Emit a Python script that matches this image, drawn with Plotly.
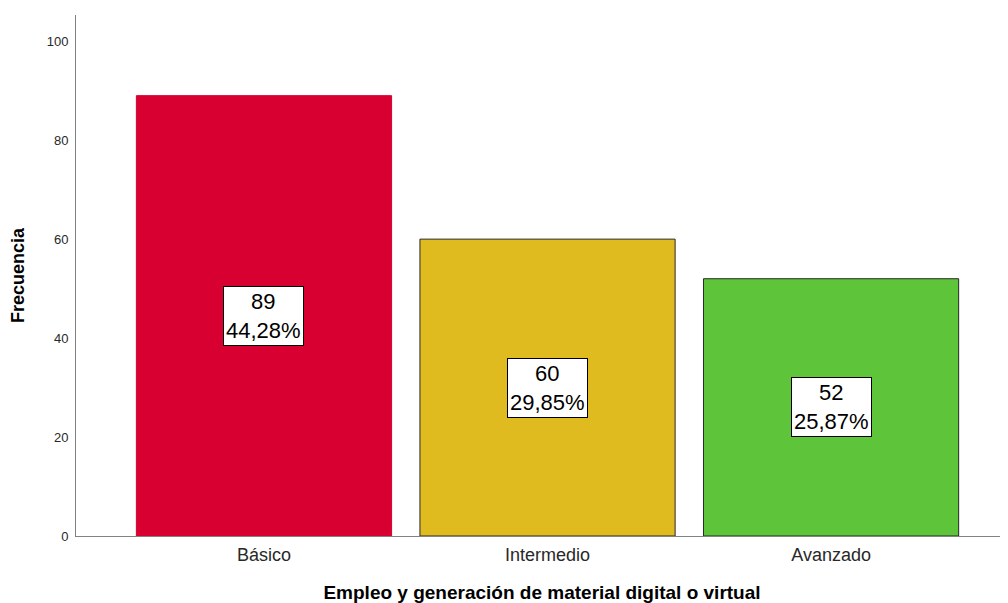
import plotly.graph_objects as go

categories = ["Básico", "Intermedio", "Avanzado"]
counts = [89, 60, 52]
percents = ["44,28%", "29,85%", "25,87%"]
bar_colors = ["rgb(215,0,48)", "rgb(224,187,32)", "rgb(94,196,58)"]
outline_colors = ["rgb(215,0,48)", "rgb(40,40,40)", "rgb(40,40,40)"]
y_ticks = [0, 20, 40, 60, 80, 100]

fig = go.Figure()
fig.add_trace(go.Bar(
    x=categories, y=counts, width=0.9,
    marker=dict(color=bar_colors, line=dict(color=outline_colors, width=1)),
    hoverinfo="skip",
))

for c, v, p in zip(categories, counts, percents):
    fig.add_annotation(
        x=c, y=v / 2, xref="x", yref="y",
        text=f"{v}<br>{p}", showarrow=False,
        font=dict(family="Arial, Liberation Sans", size=22, color="black"),
        bgcolor="white", bordercolor="black", borderwidth=1, borderpad=2,
        align="center",
    )

# The page body adds an 8px offset, so the figure is 8px smaller on each axis
fig.update_layout(
    width=1000, height=595,
    margin=dict(l=68, r=0, t=7, b=60),
    plot_bgcolor="white", paper_bgcolor="white",
    showlegend=False,
    font=dict(family="Arial, Liberation Sans"),
    xaxis=dict(
        range=[-0.663, 2.624], showline=True, linecolor="rgb(130,130,130)", linewidth=1,
        ticks="", showgrid=False, zeroline=False,
        tickfont=dict(size=18, color="rgb(40,40,40)"),
        ticklabelstandoff=2,
        title=dict(text="<b>Empleo y generación de material digital o virtual</b>",
                   font=dict(size=19, color="black"), standoff=25),
    ),
    yaxis=dict(
        range=[0, 105.3], showline=True, linecolor="rgb(130,130,130)", linewidth=1,
        tickvals=y_ticks, ticks="", showgrid=False, zeroline=False,
        tickfont=dict(size=13, color="rgb(40,40,40)"),
        ticklabelstandoff=4,
        title=dict(text="<b>Frecuencia</b>", font=dict(size=18, color="black"), standoff=18),
    ),
)

fig.write_html("out.html")
